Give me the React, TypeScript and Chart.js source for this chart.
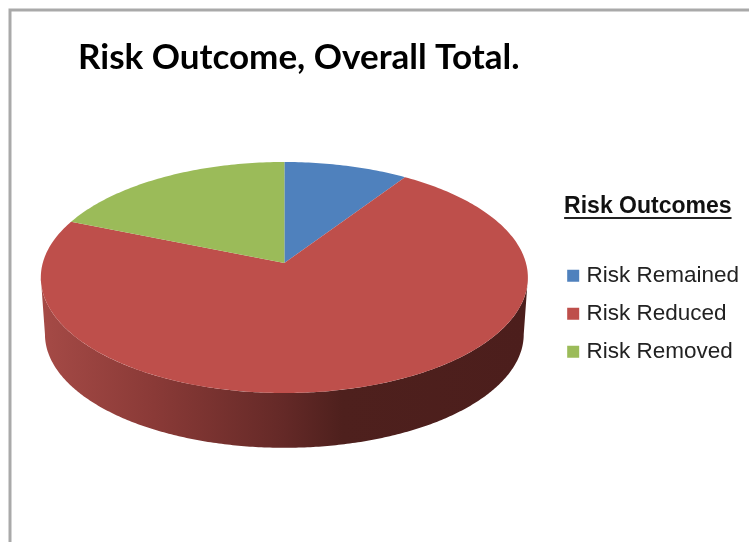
import React, { useEffect, useRef } from "react";
import { Chart, PieController, ArcElement, Title, Legend } from "chart.js";

const categories = ["Risk Remained", "Risk Reduced", "Risk Removed"];
const outcomeShares = [9.3, 71.9, 18.8];
const sliceColors = ["#4F81BD", "#BE4F4B", "#9BBB59"];
const wallStops = [0, 0.23, 0.5, 0.62, 1];
const wallColors = ["#A54A46", "#8A3A37", "#642927", "#4E201D", "#4C1E1C"];

const chartTitle = "Risk Outcome, Overall Total.";
const legendTitle = "Risk Outcomes";

// Camera tilt: a circle of the pie plane is projected to a foreshortened ellipse.
const TILT = 0.1256;
const SQUASH = 0.4706;
const WALL_DEPTH = 57;
const WALL_SHRINK = 0.983;

function project(cx: number, cy: number, r: number, angle: number, shrink = 1, drop = 0) {
  const u = Math.cos(angle);
  const v = Math.sin(angle);
  const w = 1 - TILT * v;
  return [cx + (shrink * r * u) / w, cy + (shrink * r * SQUASH * v) / w + drop];
}

class TiltedArc extends ArcElement {
  static id = "tiltedArc";

  draw(ctx: CanvasRenderingContext2D) {
    const { x, y, startAngle, endAngle, outerRadius } = this as any;
    const steps = Math.max(8, Math.ceil((endAngle - startAngle) * 60));

    // Rim of the disc: only the part facing the viewer is visible.
    const frontStart = Math.max(startAngle, Math.asin(TILT));
    const frontEnd = Math.min(endAngle, Math.PI - Math.asin(TILT));
    if (frontEnd > frontStart) {
      const grad = ctx.createLinearGradient(x - outerRadius, 0, x + outerRadius, 0);
      wallStops.forEach((s, i) => grad.addColorStop(s, wallColors[i]));
      ctx.beginPath();
      for (let i = 0; i <= steps; i++) {
        const t = frontStart + ((frontEnd - frontStart) * i) / steps;
        const [px, py] = project(x, y, outerRadius, t);
        ctx.lineTo(px, py);
      }
      for (let i = steps; i >= 0; i--) {
        const t = frontStart + ((frontEnd - frontStart) * i) / steps;
        const [px, py] = project(x, y, outerRadius, t, WALL_SHRINK, WALL_DEPTH);
        ctx.lineTo(px, py);
      }
      ctx.closePath();
      ctx.fillStyle = grad;
      ctx.fill();
    }

    // Top face of the slice.
    ctx.beginPath();
    ctx.moveTo(x, y);
    for (let i = 0; i <= steps; i++) {
      const t = startAngle + ((endAngle - startAngle) * i) / steps;
      const [px, py] = project(x, y, outerRadius, t);
      ctx.lineTo(px, py);
    }
    ctx.closePath();
    ctx.fillStyle = (this as any).options.backgroundColor;
    ctx.fill();
  }
}

class TiltedPie extends PieController {
  static id = "tiltedPie";
  static defaults = { dataElementType: "tiltedArc" };
}

const pageDecor = {
  id: "pageDecor",
  afterLayout(chart: any) {
    chart.titleBlock.left = 78;
    // Narrower legend box, so its centred heading sits over the item text.
    chart.legend.width -= 9;
  },
  beforeDraw(chart: any) {
    const { ctx } = chart;
    ctx.save();
    ctx.strokeStyle = "#A9A9A9";
    ctx.lineWidth = 3;
    ctx.beginPath();
    ctx.moveTo(10, 542);
    ctx.lineTo(10, 10);
    ctx.lineTo(749, 10);
    ctx.stroke();
    ctx.restore();
  },
  afterDraw(chart: any) {
    // The legend heading is underlined, which the legend cannot do by itself.
    const { ctx, legend } = chart;
    const t = legend.options.title;
    ctx.save();
    ctx.font = `bold ${t.font.size}px ${t.font.family}`;
    const w = ctx.measureText(t.text).width;
    const mid = legend.left + legend.width / 2;
    const y = legend.top + t.padding.top + t.font.size / 2 + 11;
    ctx.strokeStyle = "#222";
    ctx.lineWidth = 2;
    ctx.beginPath();
    ctx.moveTo(mid - w / 2, y);
    ctx.lineTo(mid + w / 2, y);
    ctx.stroke();
    ctx.restore();
  },
};

Chart.register(TiltedPie, TiltedArc, Title, Legend, pageDecor);

export default function App() {
  const ref = useRef<HTMLCanvasElement>(null);
  useEffect(() => {
    const chart = new Chart(ref.current!, {
      type: "tiltedPie" as any,
      data: {
        labels: categories,
        datasets: [
          {
            data: outcomeShares,
            backgroundColor: sliceColors,
            borderWidth: 0,
            clip: false,
          } as any,
        ],
      },
      options: {
        responsive: false,
        animation: false,
        radius: 241.6,
        layout: { padding: { left: 13, bottom: 95 } },
        plugins: {
          tooltip: { enabled: false },
          title: {
            display: true,
            text: chartTitle,
            align: "start",
            color: "#000",
            font: { family: "Lato", weight: "bold", size: 35, lineHeight: 1.2 },
            padding: { top: 37, bottom: 0 },
          },
          legend: {
            display: true,
            position: "right",
            align: "start",
            title: {
              display: true,
              text: legendTitle,
              position: "center",
              color: "#111",
              font: { family: "Liberation Sans", weight: "bold", size: 23, lineHeight: 1.2 },
              padding: { top: 195.5, bottom: 26 },
            },
            labels: {
              color: "#222",
              font: { family: "Liberation Sans", size: 22.5 },
              usePointStyle: true,
              pointStyle: "rect",
              boxWidth: 4,
              boxHeight: 12,
              padding: 15.5,
            },
          },
        },
      } as any,
    });
    return () => chart.destroy();
  }, []);
  return (
    <div style={{ position: "absolute", left: 0, top: 0, width: 749, height: 542, background: "#fff" }}>
      <canvas ref={ref} width={749} height={542} style={{ display: "block" }} />
    </div>
  );
}
